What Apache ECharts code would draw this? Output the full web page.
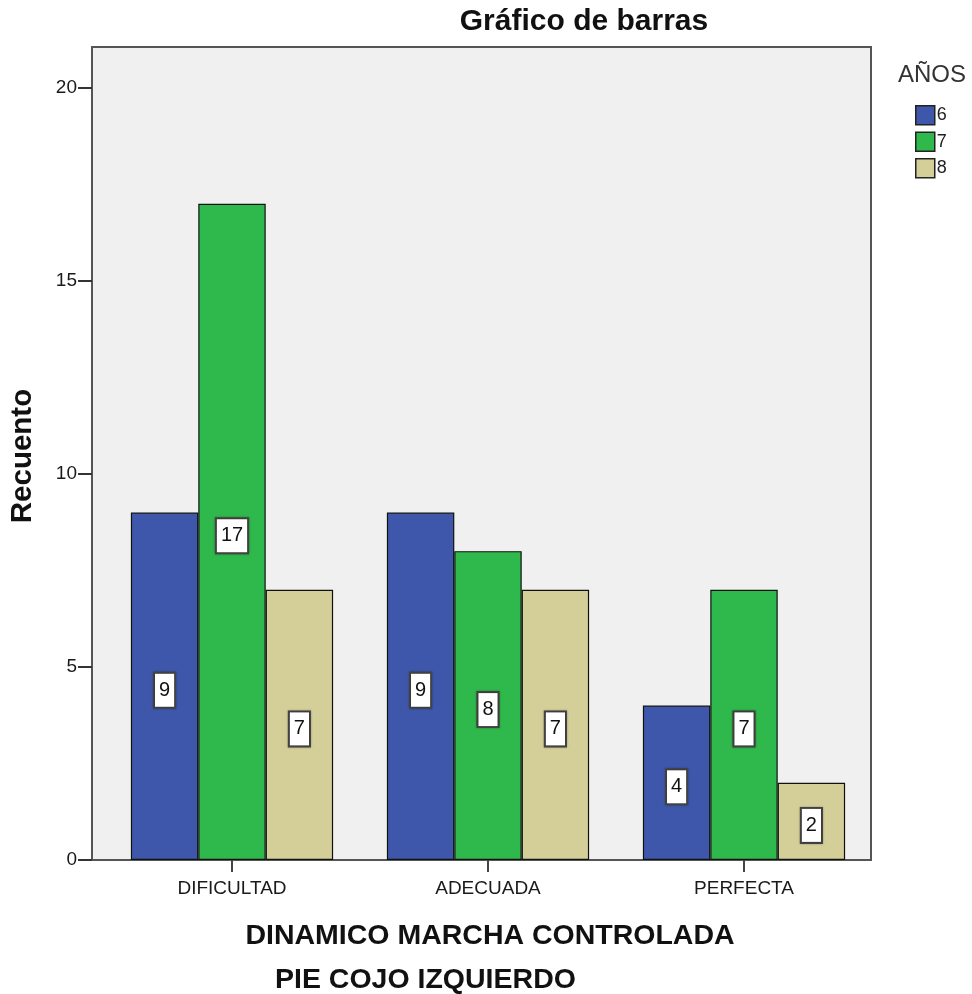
<!DOCTYPE html>
<html>
<head>
<meta charset="utf-8">
<script src="https://cdn.jsdelivr.net/npm/echarts@6/dist/echarts.min.js"></script>
<style>
  html, body { margin: 0; padding: 0; background: #ffffff; }
  #chart { width: 972px; height: 994px; }
</style>
</head>
<body>
<div id="chart"></div>
<script>
// Bar chart: counts per category, grouped by age (AÑOS)
const categories = ['DIFICULTAD', 'ADECUADA', 'PERFECTA'];
const seriesNames = ['6', '7', '8'];
const age6 = [9, 9, 4];
const age7 = [17, 8, 7];
const age8 = [7, 7, 2];
const yTicks = [0, 5, 10, 15, 20];

const colors = ['#3e57ab', '#2fb84b', '#d4cf98'];
const FONT = '"Liberation Sans", Arial, sans-serif';
const Y_MAX = 21.06;

const chart = echarts.init(document.getElementById('chart'), null, { renderer: 'canvas' });

const labelStyle = {
  show: true,
  position: 'inside',
  offset: [0, 4],
  fontFamily: FONT,
  fontSize: 20,
  lineHeight: 20,
  color: '#111',
  backgroundColor: '#ffffff',
  borderColor: '#444',
  borderWidth: 2,
  padding: [7, 4, 6, 4],
  shadowColor: 'rgba(0,0,0,0.35)',
  shadowBlur: 2
};

function barSeries(name, data, idx) {
  return {
    name: name,
    type: 'bar',
    xAxisIndex: 1,
    yAxisIndex: 1,
    data: data,
    barGap: '0%',
    barCategoryGap: '21%',
    itemStyle: { color: colors[idx], borderColor: '#111', borderWidth: 1.2 },
    label: labelStyle,
    emphasis: { disabled: true }
  };
}

const option = {
  animation: false,
  backgroundColor: '#ffffff',
  grid: [
    // frame and background of the plot area
    { left: 92, top: 47, width: 779, height: 813, show: true,
      backgroundColor: '#f0f0f0', borderColor: '#555', borderWidth: 2 },
    // bars
    { left: 104, top: 47, width: 768, height: 813 }
  ],
  xAxis: [
    { gridIndex: 0, type: 'category', data: categories, show: false },
    {
      gridIndex: 1, type: 'category', data: categories,
      axisLine: { show: false },
      axisTick: { show: true, alignWithLabel: true, length: 12, lineStyle: { color: '#444', width: 2 } },
      axisLabel: { fontFamily: FONT, fontSize: 19, color: '#1a1a1a', margin: 19 }
    }
  ],
  yAxis: [
    {
      gridIndex: 0, type: 'value', min: 0, max: Y_MAX, interval: 5,
      axisLine: { show: true, lineStyle: { color: '#555', width: 2 } },
      axisTick: { show: true, length: 14, lineStyle: { color: '#333', width: 2 },
        customValues: yTicks },
      axisLabel: { fontFamily: FONT, fontSize: 19, color: '#1a1a1a', margin: 15,
        customValues: yTicks },
      splitLine: { show: false }
    },
    { gridIndex: 1, type: 'value', min: 0, max: Y_MAX, show: false, splitLine: { show: false } }
  ],
  legend: {
    orient: 'vertical',
    left: 910,
    top: 100,
    itemWidth: 19,
    itemHeight: 19,
    itemGap: 6,
    icon: 'rect',
    data: seriesNames,
    textStyle: { fontFamily: FONT, fontSize: 18, color: '#222', padding: [0, 0, 0, -3] },
    itemStyle: { borderColor: '#222', borderWidth: 1.5 }
  },
  graphic: [
    { type: 'text', x: 584, y: 22, style: {
        text: 'Gráfico de barras', font: 'bold 30px ' + FONT, fill: '#111',
        textAlign: 'center', textVerticalAlign: 'middle' } },
    { type: 'text', x: 23, y: 456, rotation: Math.PI / 2, style: {
        text: 'Recuento', font: 'bold 29.5px ' + FONT, fill: '#111',
        textAlign: 'center', textVerticalAlign: 'middle' } },
    { type: 'text', x: 898, y: 75, style: {
        text: 'AÑOS', font: '24px ' + FONT, fill: '#333',
        textAlign: 'left', textVerticalAlign: 'middle' } },
    { type: 'text', x: 490, y: 936, style: {
        text: 'DINAMICO MARCHA CONTROLADA', font: 'bold 28.5px ' + FONT, fill: '#111',
        textAlign: 'center', textVerticalAlign: 'middle' } },
    { type: 'text', x: 275, y: 980, style: {
        text: 'PIE COJO IZQUIERDO', font: 'bold 28.5px ' + FONT, fill: '#111',
        textAlign: 'left', textVerticalAlign: 'middle' } }
  ],
  series: [
    barSeries(seriesNames[0], age6, 0),
    barSeries(seriesNames[1], age7, 1),
    barSeries(seriesNames[2], age8, 2)
  ]
};

chart.setOption(option);
</script>
</body>
</html>
